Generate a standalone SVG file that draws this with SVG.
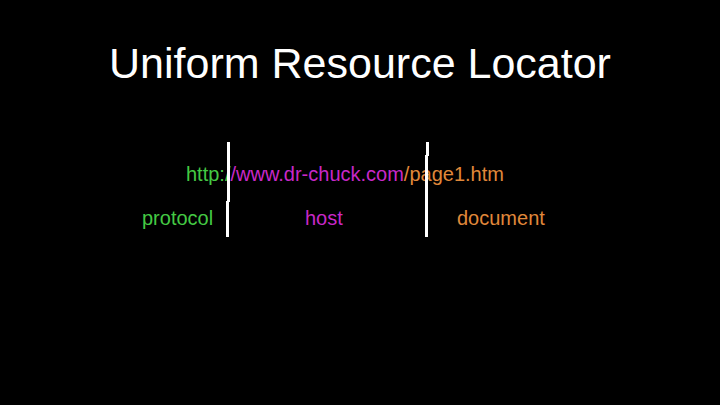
<svg xmlns="http://www.w3.org/2000/svg" width="720" height="405" viewBox="0 0 720 405">
<style>
text{font-family:"Liberation Sans",Arial,sans-serif}
.t{font-size:43px;fill:#ffffff}
.s{font-size:20px}
.g{fill:#44c944}
.m{fill:#c828c8}
.o{fill:#e0883a}
.ln{stroke:#ffffff;stroke-width:3;fill:none}
</style>
<rect width="720" height="405" fill="#000000"/>
<g id="title"><text class="t" x="360" y="78" text-anchor="middle">Uniform Resource Locator</text></g>
<g id="url"><text class="s" x="186" y="181"><tspan class="g">http:/</tspan><tspan class="m">/www.dr-chuck.com</tspan><tspan class="o">/page1.htm</tspan></text></g>
<g id="protocol"><text class="s g" x="142" y="225">protocol</text></g>
<g id="host"><text class="s m" x="305" y="225">host</text></g>
<g id="document"><text class="s o" x="457" y="225">document</text></g>
<g id="connectors">
<path class="ln" d="M228.5 142V202M227.5 201V237"/>
<path class="ln" d="M427.5 142V156M426.5 155V237"/>
</g>
</svg>
